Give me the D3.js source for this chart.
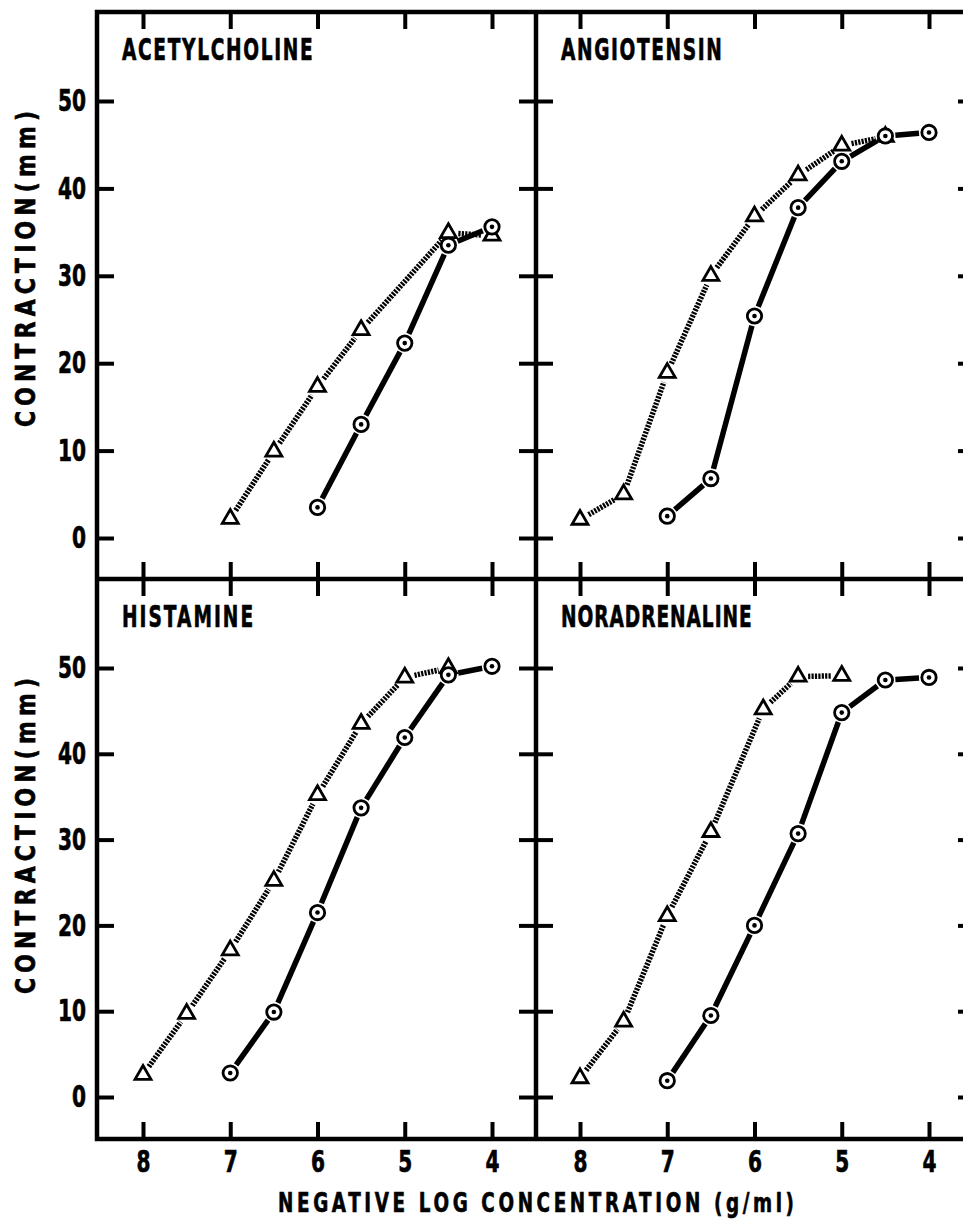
<!DOCTYPE html>
<html>
<head>
<meta charset="utf-8">
<script src="https://cdn.jsdelivr.net/npm/d3@7"></script>
<style>
  body { margin: 0; background: #fff; }
  svg { display: block; }
  text { font-family: 'DejaVu Sans', sans-serif; font-weight: bold; fill: #000; stroke: #000; stroke-width: 0.7px; }
</style>
</head>
<body>
<div id="chart"></div>
<script>
// Panel names, in order: top-left, top-right, bottom-left, bottom-right
const panelNames = ["ACETYLCHOLINE", "ANGIOTENSIN", "HISTAMINE", "NORADRENALINE"];
const xTicks = [8, 7, 6, 5, 4];
const yTicks = [0, 10, 20, 30, 40, 50];

// Acetylcholine
const achTriDose = [7, 6.5, 6, 5.5, 4.5, 4];
const achTri = [2.2, 9.9, 17.3, 23.8, 34.9, 34.6];
const achCircDose = [6, 5.5, 5, 4.5, 4];
const achCirc = [3.5, 13.0, 22.3, 33.5, 35.6];

// Angiotensin
const angTriDose = [8, 7.5, 7, 6.5, 6, 5.5, 5, 4.5];
const angTri = [2.1, 5.0, 18.9, 30.0, 36.8, 41.5, 44.9, 45.9];
const angCircDose = [7, 6.5, 6, 5.5, 5, 4.5, 4];
const angCirc = [2.5, 6.8, 25.4, 37.8, 43.1, 46.0, 46.4];

// Histamine
const hisTriDose = [8, 7.5, 7, 6.5, 6, 5.5, 5, 4.5];
const hisTri = [2.6, 9.7, 17.1, 25.2, 35.2, 43.5, 48.9, 50.0];
const hisCircDose = [7, 6.5, 6, 5.5, 5, 4.5, 4];
const hisCirc = [2.8, 9.9, 21.5, 33.7, 41.9, 49.2, 50.2];

// Noradrenaline
const norTriDose = [8, 7.5, 7, 6.5, 5.9, 5.5, 5];
const norTri = [2.2, 8.8, 21.1, 30.9, 45.2, 49.0, 49.1];
const norCircDose = [7, 6.5, 6, 5.5, 5, 4.5, 4];
const norCirc = [1.9, 9.5, 20.0, 30.7, 44.8, 48.6, 48.9];

const width = 963, height = 1220;

// frame edges (right edge falls just outside the picture, like the scan)
const colEdges = [97, 536, 975];
const rowEdges = [12, 579, 1139];
// pixel ranges of the axes inside each column / row
const xRanges = [[143, 492], [580, 929]];
const yRanges = [[538, 101], [1097, 668]];

const zip = (xs, ys) => xs.map((x, i) => ({ dose: x, val: ys[i] }));

const panels = [
  { name: panelNames[0], col: 0, row: 0, tri: zip(achTriDose, achTri), circ: zip(achCircDose, achCirc) },
  { name: panelNames[1], col: 1, row: 0, tri: zip(angTriDose, angTri), circ: zip(angCircDose, angCirc) },
  { name: panelNames[2], col: 0, row: 1, tri: zip(hisTriDose, hisTri), circ: zip(hisCircDose, hisCirc) },
  { name: panelNames[3], col: 1, row: 1, tri: zip(norTriDose, norTri), circ: zip(norCircDose, norCirc) }
];

const svg = d3.select("#chart").append("svg")
  .attr("width", width)
  .attr("height", height)
  .style("background", "#fff");

// squeeze text into a narrow gothic look
function narrow(sel, perChar) {
  sel.attr("textLength", function () { return this.textContent.length * perChar; })
    .attr("lengthAdjust", "spacingAndGlyphs");
}

// narrow glyphs with wide letter spacing, stretched to a given width
function spacedText(parent, str, o) {
  const g = parent.append("g")
    .attr("transform", `translate(${o.x},${o.y}) rotate(${o.rotate || 0}) scale(${o.squeeze},1)`);
  const t = g.append("text").attr("font-size", o.size).text(str);
  const w = t.node().getComputedTextLength();
  const ls = (o.width / o.squeeze - w) / (str.length - 1);
  const total = w + ls * (str.length - 1);
  t.attr("letter-spacing", ls)
    .attr("x", o.anchor === "start" ? 0 : -total / 2);
  return t;
}

function styleAxis(g) {
  g.select(".domain").remove();
  g.selectAll(".tick line").attr("stroke", "#000").attr("stroke-width", 4);
  g.selectAll(".tick text")
    .attr("fill", "#000")
    .attr("font-family", null)
    .attr("font-size", 30)
    .call(narrow, 14);
  g.attr("font-family", null);
}

// draw a polyline as separate segments that stop short of the markers
function segments(g, pts, gap, styleFn) {
  d3.pairs(pts).forEach(([a, b]) => {
    const dx = b[0] - a[0], dy = b[1] - a[1];
    const len = Math.hypot(dx, dy);
    if (len <= gap * 2) return;
    const ux = dx / len, uy = dy / len;
    g.append("line")
      .attr("x1", a[0] + ux * gap).attr("y1", a[1] + uy * gap)
      .attr("x2", b[0] - ux * gap).attr("y2", b[1] - uy * gap)
      .call(styleFn);
  });
}

panels.forEach(p => {
  const left = colEdges[p.col], right = colEdges[p.col + 1];
  const top = rowEdges[p.row], bottom = rowEdges[p.row + 1];

  const x = d3.scaleLinear().domain([8, 4]).range(xRanges[p.col]);
  const y = d3.scaleLinear().domain([0, 50]).range(yRanges[p.row]);

  const g = svg.append("g").attr("class", "panel");

  // inward ticks on all four sides
  g.append("g")
    .attr("transform", `translate(${left},0)`)
    .call(d3.axisLeft(y).tickValues(yTicks).tickSize(-17).tickPadding(11)
      .tickFormat(p.col === 0 ? d3.format("d") : ""))
    .call(styleAxis);
  g.append("g")
    .attr("transform", `translate(${right},0)`)
    .call(d3.axisRight(y).tickValues(yTicks).tickSize(-17).tickFormat(""))
    .call(styleAxis);
  g.append("g")
    .attr("transform", `translate(0,${top})`)
    .call(d3.axisTop(x).tickValues(xTicks).tickSize(-17).tickFormat(""))
    .call(styleAxis);
  g.append("g")
    .attr("transform", `translate(0,${bottom})`)
    .call(d3.axisBottom(x).tickValues(xTicks).tickSize(-17).tickPadding(12)
      .tickFormat(p.row === 1 ? d3.format("d") : ""))
    .call(styleAxis);

  // panel title
  spacedText(g, p.name, {
    x: left + 25, y: top + 48, size: 30, squeeze: 0.62,
    width: p.name.length * 14.9 - 3, anchor: "start"
  });

  const px = d => [x(d.dose), y(d.val)];

  // triangle series: thick hatched line
  segments(g, p.tri.map(px), 10, s => s
    .attr("stroke", "#000")
    .attr("stroke-width", 5.5)
    .attr("stroke-dasharray", "2.2 1.2"));

  // circle series: thick solid line
  segments(g, p.circ.map(px), 10, s => s
    .attr("stroke", "#000")
    .attr("stroke-width", 5.5));

  // open triangles
  g.selectAll(".tri")
    .data(p.tri)
    .enter().append("path")
    .attr("class", "tri")
    .attr("transform", d => `translate(${x(d.dose)},${y(d.val)})`)
    .attr("d", d3.symbol(d3.symbolTriangle).size(110))
    .attr("fill", "#fff")
    .attr("stroke", "#000")
    .attr("stroke-width", 2.8);

  // circles with a centre dot
  const dots = g.selectAll(".circ")
    .data(p.circ)
    .enter().append("g")
    .attr("class", "circ")
    .attr("transform", d => `translate(${x(d.dose)},${y(d.val)})`);
  dots.append("circle")
    .attr("r", 7.2)
    .attr("fill", "#fff")
    .attr("stroke", "#000")
    .attr("stroke-width", 2.8);
  dots.append("circle")
    .attr("r", 2.3)
    .attr("fill", "#000");

  // y axis title on left panels
  if (p.col === 0) {
    spacedText(g, "CONTRACTION(mm)", {
      x: 35, y: top + 257, rotate: -90, size: 26, squeeze: 0.84, width: 316
    });
  }
});

// outer frame and the dividing cross
svg.append("rect")
  .attr("x", colEdges[0])
  .attr("y", rowEdges[0])
  .attr("width", colEdges[2] - colEdges[0])
  .attr("height", rowEdges[2] - rowEdges[0])
  .attr("fill", "none")
  .attr("stroke", "#000")
  .attr("stroke-width", 4.5);
svg.append("line")
  .attr("x1", colEdges[1]).attr("x2", colEdges[1])
  .attr("y1", rowEdges[0]).attr("y2", rowEdges[2])
  .attr("stroke", "#000").attr("stroke-width", 4.5);
svg.append("line")
  .attr("x1", colEdges[0]).attr("x2", colEdges[2])
  .attr("y1", rowEdges[1]).attr("y2", rowEdges[1])
  .attr("stroke", "#000").attr("stroke-width", 4.5);

// shared x axis title
spacedText(svg, "NEGATIVE LOG CONCENTRATION (g/ml)", {
  x: colEdges[1], y: 1212, size: 27, squeeze: 0.68, width: 516
});
</script>
</body>
</html>
